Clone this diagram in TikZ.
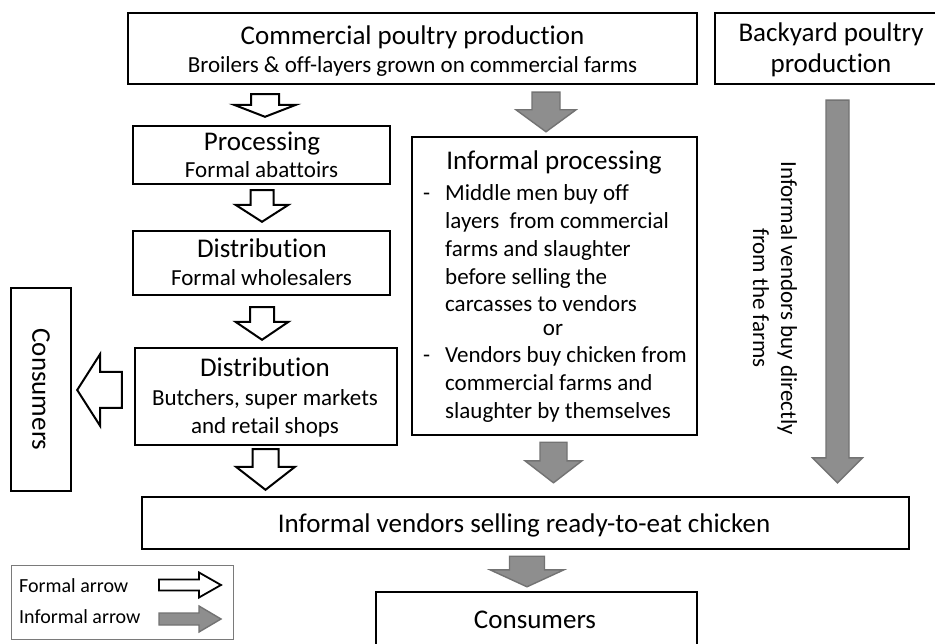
\documentclass[tikz,border=0pt]{standalone}
\usepackage{fontspec}
\setmainfont{Carlito}[Ligatures=NoCommon]
\usetikzlibrary{calc}
\definecolor{infgray}{HTML}{8E8E8E}
\definecolor{infedge}{HTML}{737373}
\definecolor{legedge}{HTML}{7A7A7A}
\tikzset{
  box/.style={draw=black, line width=2.4pt, inner sep=0pt},
  formal/.style={draw=black, fill=white, line width=2pt, line join=miter},
  informal/.style={draw=infedge, fill=infgray, line width=1.4pt, line join=miter},
  big/.style={font=\fontsize{27}{32}\selectfont, inner sep=0pt},
  mid/.style={font=\fontsize{23}{27.8}\selectfont, inner sep=0pt},
  small/.style={font=\fontsize{20}{24}\selectfont, inner sep=0pt},
}
% down block arrow: style, start, tip, shaft half width, head half width, head length
\newcommand\downarr[6]{\draw[#1] let \p1=#2, \p2=#3 in
  (\x2-#4pt,\y1) -- (\x2+#4pt,\y1) -- (\x2+#4pt,\y2+#6pt) -- (\x2+#5pt,\y2+#6pt)
  -- (\x2,\y2) -- (\x2-#5pt,\y2+#6pt) -- (\x2-#4pt,\y2+#6pt) -- cycle;}
\newcommand\leftarr[6]{\draw[#1] let \p1=#2, \p2=#3 in
  (\x1,\y2+#4pt) -- (\x1,\y2-#4pt) -- (\x2+#6pt,\y2-#4pt) -- (\x2+#6pt,\y2-#5pt)
  -- (\x2,\y2) -- (\x2+#6pt,\y2+#5pt) -- (\x2+#6pt,\y2+#4pt) -- cycle;}
\newcommand\rightarr[6]{\draw[#1] let \p1=#2, \p2=#3 in
  (\x1,\y2+#4pt) -- (\x2-#6pt,\y2+#4pt) -- (\x2-#6pt,\y2+#5pt) -- (\x2,\y2)
  -- (\x2-#6pt,\y2-#5pt) -- (\x2-#6pt,\y2-#4pt) -- (\x1,\y2-#4pt) -- cycle;}
\begin{document}
\begin{tikzpicture}[x=1pt,y=-1pt]
\useasboundingbox (0,0) rectangle (935,644);
\clip (0,0) rectangle (935,644);
\fill[white] (0,0) rectangle (935,644);

% boxes
\node[box, minimum width=569pt, minimum height=71pt] (comm) at (412.5,48.5) {};
\node[box, minimum width=235pt, minimum height=71pt] (back) at (832.5,48.5) {};
\node[box, minimum width=257pt, minimum height=58pt] (proc) at (261.5,155) {};
\node[box, minimum width=257pt, minimum height=64pt] (dist1) at (261.5,263) {};
\node[box, minimum width=262pt, minimum height=97pt] (dist2) at (266,396.5) {};
\node[box, minimum width=60pt, minimum height=203pt] (cons) at (41,389.5) {};
\node[box, minimum width=285pt, minimum height=298pt] (infp) at (554.5,286) {};
\node[box, minimum width=767pt, minimum height=52pt] (vend) at (525.5,523) {};
\node[box, minimum width=321pt, minimum height=80pt] (consb) at (536.5,632) {};
\node[draw=legedge, line width=1pt, inner sep=0pt, minimum width=222pt, minimum height=74pt] (leg) at (122,602) {};

% texts
\node[big, anchor=base] (commT) at (412.5,45) {Commercial poultry production};
\node[mid, anchor=base] (commS) at (412.5,73) {Broilers \& off-layers grown on commercial farms};
\node[big, anchor=base] (backT) at (831,42) {Backyard poultry};
\node[big, anchor=base] (backS) at (831,73) {production};
\node[big, anchor=base] (procT) at (262,151) {Processing};
\node[mid, anchor=base] (procS) at (261.5,178) {Formal abattoirs};
\node[big, anchor=base] (d1T) at (262,258) {Distribution};
\node[mid, anchor=base] (d1S) at (261.5,286) {Formal wholesalers};
\node[big, anchor=base] (d2T) at (265,377) {Distribution};
\node[mid, anchor=base] (d2S) at (265,406) {Butchers, super markets};
\node[mid, anchor=base] (d2U) at (265,433) {and retail shops};
\node[big, anchor=base] (ipT) at (554,170) {Informal processing};
\node[mid, anchor=base west, align=left] (ipA) at (423,312)
  {\makebox[22pt][l]{-}Middle men buy off\\
   \hspace*{22pt}layers\ \ from commercial\\
   \hspace*{22pt}farms and slaughter\\
   \hspace*{22pt}before selling the\\
   \hspace*{22pt}carcasses to vendors};
\node[mid, anchor=base] (ipOr) at (553,336) {or};
\node[mid, anchor=base west, align=left, font=\fontsize{23}{27.5}\selectfont] (ipB) at (423,418)
  {\makebox[22pt][l]{-}Vendors buy chicken from\\
   \hspace*{22pt}commercial farms and\\
   \hspace*{22pt}slaughter by themselves};
\node[mid, rotate=-90, align=center] (backL) at (775,298)
  {Informal vendors buy directly\\from the farms};
\node[big, rotate=-90] (consT) at (41,389.5) {Consumers};
\node[big, anchor=base] (vendT) at (524,532) {Informal vendors selling ready-to-eat chicken};
\node[big, anchor=base] (consbT) at (535,628) {Consumers};
\node[small, anchor=base west] (legF) at (19,592) {Formal arrow};
\node[small, anchor=base west] (legI) at (19,623) {Informal arrow};

% formal (hollow) arrows
\downarr{formal}{($(comm.south)+(0,9)$)}{($(proc.north)+(3.5,-8)$)}{14}{31}{12}
\downarr{formal}{($(proc.south)+(0,5)$)}{($(dist1.north)+(0.5,-8)$)}{11.5}{26.5}{17}
\downarr{formal}{($(dist1.south)+(0,11)$)}{($(dist2.north)+(-4,-7)$)}{12}{26.5}{18}
\downarr{formal}{($(dist2.south)+(0,3)$)}{($(vend.north -| dist2.south)+(-0.5,-6)$)}{13}{29.5}{23}
\leftarr{formal}{($(dist2.west)+(-12,-6)$)}{($(cons.east)+(5,0.5)$)}{18}{36}{23}

% informal (grey) arrows
\downarr{informal}{($(comm.south)+(0,7)$)}{($(infp.north)+(-8.5,-4)$)}{14}{30}{22}
\downarr{informal}{($(infp.south)+(0,6)$)}{($(vend.north -| infp.south)+(-1,-13)$)}{13.5}{28.5}{22}
\downarr{informal}{($(back.south)+(0,15)$)}{($(vend.north -| back.south)+(5,-13)$)}{11.5}{25}{25}
\downarr{informal}{($(vend.south)+(0,6)$)}{($(consb.north)+(-9.5,-4)$)}{17.5}{37}{17}

% legend arrows
\coordinate (lfs) at (159,585);
\coordinate (lft) at (221,585);
\coordinate (lis) at (159,619);
\coordinate (lit) at (221,619);
\rightarr{formal, line width=1.8pt}{(lfs)}{(lft)}{5.5}{12.5}{22}
\rightarr{informal}{(lis)}{(lit)}{6}{13}{22}
\end{tikzpicture}
\end{document}
